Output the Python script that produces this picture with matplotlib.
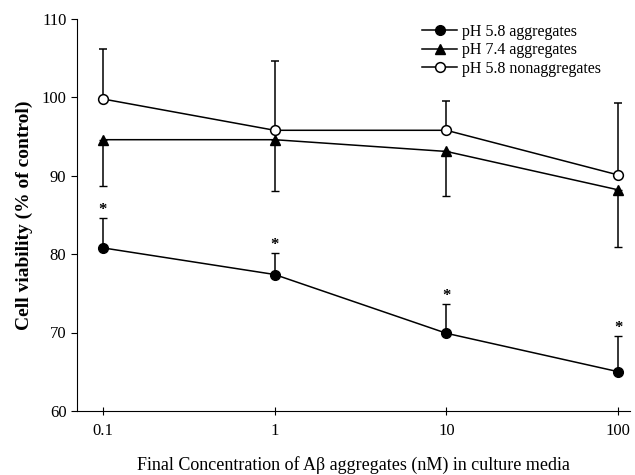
import numpy as np
from matplotlib import pyplot as plt
from matplotlib.lines import Line2D

plt.rcParams['font.family'] = ['Liberation Serif', 'DejaVu Serif']

conc = [0.1, 1, 10, 100]

agg58 = [80.8, 77.4, 69.9, 65.0]
agg58_up = [3.8, 2.7, 3.7, 4.5]

agg74 = [94.6, 94.6, 93.1, 88.2]
agg74_down = [5.9, 6.5, 5.7, 7.3]

nonagg58 = [99.8, 95.8, 95.8, 90.1]
nonagg58_up = [6.4, 8.8, 3.7, 9.2]

zeros = [0, 0, 0, 0]

fig = plt.figure(figsize=(6.35, 4.75), dpi=100)
ax = fig.add_axes([0.121, 0.135, 0.871, 0.825])

ax.errorbar(conc, agg58, yerr=[zeros, agg58_up], fmt='-o', color='k', mfc='k',
            ms=7, lw=1.1, elinewidth=1.1, capsize=3)
ax.errorbar(conc, agg74, yerr=[agg74_down, zeros], fmt='-^', color='k', mfc='k',
            ms=6.5, lw=1.1, elinewidth=1.1, capsize=3)
ax.errorbar(conc, nonagg58, yerr=[zeros, nonagg58_up], fmt='-o', color='k', mfc='white',
            ms=7, mew=1.1, lw=1.1, elinewidth=1.1, capsize=3)

# significance marks above pH 5.8 aggregates
for x, y, e in zip(conc, agg58, agg58_up):
    ax.annotate('*', (x, y + e), xytext=(0, 0), textcoords='offset points',
                ha='center', va='bottom', fontsize=12, fontweight='bold')

ax.set_xscale('log')
ax.set_xlim(0.0706, 117)
ax.set_ylim(60, 110)
ax.set_xticks(conc)
ax.set_xticklabels(['0.1', '1', '10', '100'])
ax.minorticks_off()
ax.set_yticks([60, 70, 80, 90, 100, 110])

ax.spines['top'].set_visible(False)
ax.spines['right'].set_visible(False)
ax.tick_params(axis='x', direction='inout', length=6, labelsize=12, pad=6)
ax.tick_params(axis='y', direction='out', length=4, labelsize=12)

ax.set_ylabel('Cell viability (% of control)', fontsize=14, fontweight='bold', labelpad=6)
ax.set_xlabel('Final Concentration of A\u03b2 aggregates (nM) in culture media',
              fontsize=13, labelpad=12)

handles = [
    Line2D([], [], color='k', marker='o', mfc='k', ms=7, lw=1.1),
    Line2D([], [], color='k', marker='^', mfc='k', ms=6.5, lw=1.1),
    Line2D([], [], color='k', marker='o', mfc='white', ms=7, mew=1.1, lw=1.1),
]
labels = ['pH 5.8 aggregates', 'pH 7.4 aggregates', 'pH 5.8 nonaggregates']
ax.legend(handles, labels, loc='upper left', bbox_to_anchor=(422 / 635, 1 - 24 / 475),
          bbox_transform=fig.transFigure, frameon=False, fontsize=11.5,
          borderpad=0, borderaxespad=0, handlelength=2.2, labelspacing=0.15,
          handletextpad=0.3)

fig.savefig('out.png', dpi=100)
